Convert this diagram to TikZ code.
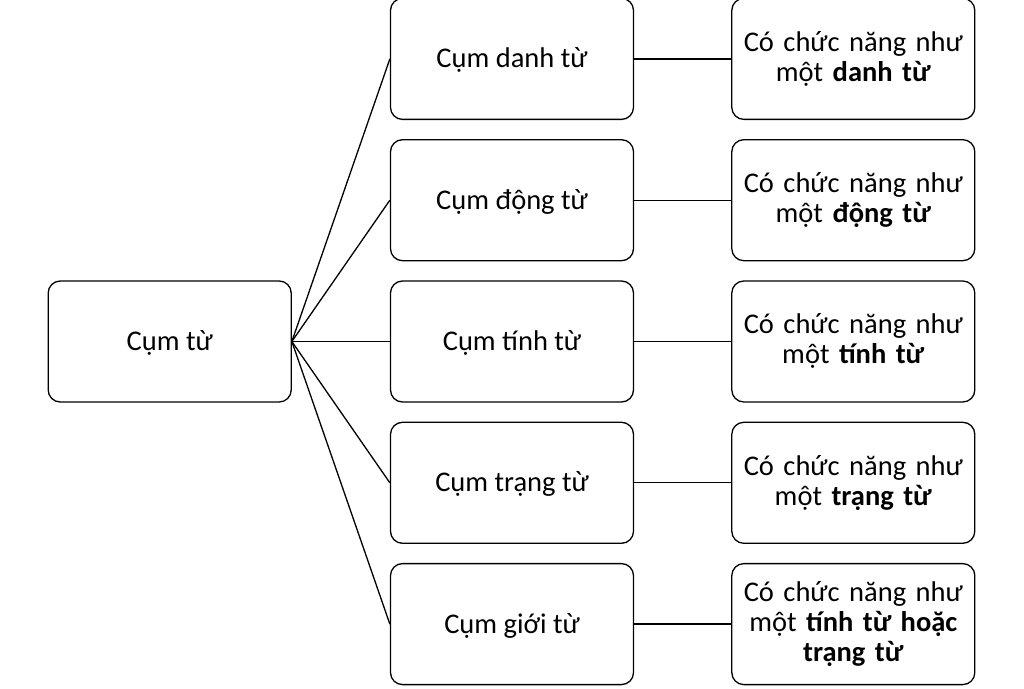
\documentclass[tikz,border=0pt]{standalone}
\usepackage{fontspec}
\setmainfont{Carlito}
\usetikzlibrary{positioning}
\tikzstyle{frame} = [rectangle, draw, fill=white, align=center, rounded corners=12pt, line width=1.3pt, minimum width=243pt, minimum height=121pt, text height=18pt, font=\fontsize{28.5}{30}\selectfont]
\tikzstyle{block} = [frame, text depth=0pt]
\tikzstyle{role}  = [frame, text width=235pt, text depth=33pt]
\tikzstyle{line}  = [draw, line width=1.3pt]

\begin{document}
\begin{tikzpicture}[x=1pt, y=1pt, node distance = 19pt]

		\useasboundingbox (0,0) rectangle (1024,688);

		% Node Setting %

		% middle column =============================%
		\node [block] at (512,346.5) (tinh) {Cụm tính từ};
		\node [block, above = of tinh] (dong) {Cụm động từ};
		\node [block, above = of dong] (danh) {Cụm danh từ};
		\node [block, below = of tinh] (trang) {Cụm trạng từ};
		\node [block, below = of trang] (gioi) {Cụm giới từ};
		% left ======================================%
		\node [block, left = 98pt of tinh] (root) {Cụm từ};
		% right column ==============================%
		\node [role, right = 97pt of danh] (danhR) {Có chức năng như\\một \textbf{danh từ}};
		\node [role, right = 97pt of dong] (dongR) {Có chức năng như\\một \textbf{động từ}};
		\node [role, right = 97pt of tinh] (tinhR) {Có chức năng như\\một \textbf{tính từ}};
		\node [role, right = 97pt of trang] (trangR) {Có chức năng như\\một \textbf{trạng từ}};
		\node [role, right = 97pt of gioi, text depth=63pt] (gioiR) {Có chức năng như\\một \textbf{tính từ hoặc}\\\textbf{trạng từ}};
		%=========================================%

		% Connection %

		\path [line] (root.east)  -- (danh.west);
		\path [line] (root.east)  -- (dong.west);
		\path [line] (root.east)  -- (tinh.west);
		\path [line] (root.east)  -- (trang.west);
		\path [line] (root.east)  -- (gioi.west);
		\path [line] (danh)  -- (danhR);
		\path [line] (dong)  -- (dongR);
		\path [line] (tinh)  -- (tinhR);
		\path [line] (trang)  -- (trangR);
		\path [line] (gioi)  -- (gioiR);
	\end{tikzpicture}
\end{document}
